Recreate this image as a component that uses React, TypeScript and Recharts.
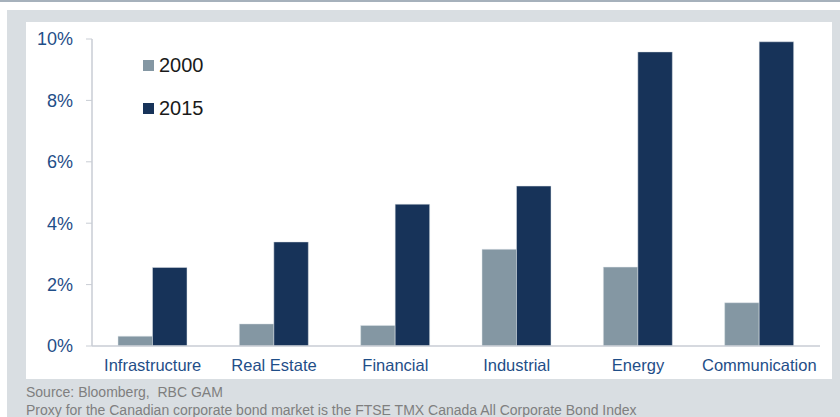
import React from 'react';
import { BarChart, Bar, XAxis, YAxis, Legend } from 'recharts';

const categories = ['Infrastructure', 'Real Estate', 'Financial', 'Industrial', 'Energy', 'Communication'];
const values2000 = [0.32, 0.72, 0.67, 3.15, 2.57, 1.41];
const values2015 = [2.56, 3.39, 4.62, 5.21, 9.58, 9.91];
const yTicks = [0, 2, 4, 6, 8, 10];

const data = categories.map((name, i) => ({ name, y2000: values2000[i], y2015: values2015[i] }));

const FONT = '"Liberation Sans", Arial, sans-serif';
const GREY = '#8497a3';
const NAVY = '#173359';
const TICK_BLUE = '#1f4e88';

const LegendContent = () => (
  <div style={{ fontFamily: FONT, fontSize: 20, color: '#1a1a1a' }}>
    {[
      { label: '2000', color: GREY },
      { label: '2015', color: NAVY },
    ].map((it, i) => (
      <div key={it.label} style={{ display: 'flex', alignItems: 'center', height: 22, marginBottom: i === 0 ? 21 : 0 }}>
        <span style={{ display: 'inline-block', width: 11, height: 11, background: it.color, marginRight: 5 }} />
        <span>{it.label}</span>
      </div>
    ))}
  </div>
);

export default function App() {
  return (
    <div style={{ position: 'absolute', left: 0, top: 0, width: 840, height: 417, background: '#ffffff', overflow: 'hidden' }}>
      <div style={{ position: 'absolute', left: 0, top: 0, width: 840, height: 2, background: '#a6b1bc' }} />
      <div style={{ position: 'absolute', left: 7, top: 10, width: 833, height: 407, background: '#d9dee2' }} />
      <div style={{ position: 'absolute', left: 26, top: 22, width: 806, height: 357, background: '#ffffff' }} />
      <div style={{ position: 'absolute', left: 0, top: 0 }}>
        <BarChart
          width={840}
          height={417}
          data={data}
          margin={{ top: 39, right: 20, bottom: 41, left: 32 }}
          barGap={0}
          barSize={34.5}
        >
          <XAxis
            dataKey="name"
            height={30}
            tickLine={false}
            tickSize={0}
            tickMargin={13}
            axisLine={{ stroke: '#c9cdd4', strokeWidth: 1.5 }}
            tick={{ fill: TICK_BLUE, fontSize: 16.5, fontFamily: FONT }}
            interval={0}
          />
          <YAxis
            width={60}
            domain={[0, 10]}
            ticks={yTicks}
            tickFormatter={(v) => `${v}%`}
            tickSize={6}
            tickMargin={13}
            tickLine={{ stroke: '#c9cdd4' }}
            axisLine={{ stroke: '#c9cdd4', strokeWidth: 1.5 }}
            tick={{ fill: TICK_BLUE, fontSize: 18, fontFamily: FONT }}
          />
          <Legend
            verticalAlign="middle"
            align="center"
            layout="vertical"
            content={<LegendContent />}
            wrapperStyle={{ left: 143, top: 54, width: 120, height: 70 }}
          />
          <Bar dataKey="y2000" name="2000" fill={GREY} stroke="#dfe4e9" strokeWidth={0.5} isAnimationActive={false} />
          <Bar dataKey="y2015" name="2015" fill={NAVY} stroke="#dfe4e9" strokeWidth={0.5} isAnimationActive={false} />
        </BarChart>
      </div>
      <div style={{ position: 'absolute', left: 26, top: 383, fontFamily: FONT, fontSize: 14, lineHeight: '18px', color: '#7f7f7f', whiteSpace: 'nowrap' }}>
        <div>Source: Bloomberg,&nbsp; RBC GAM</div>
        <div>Proxy for the Canadian corporate bond market is the FTSE TMX Canada All Corporate Bond Index</div>
      </div>
    </div>
  );
}
